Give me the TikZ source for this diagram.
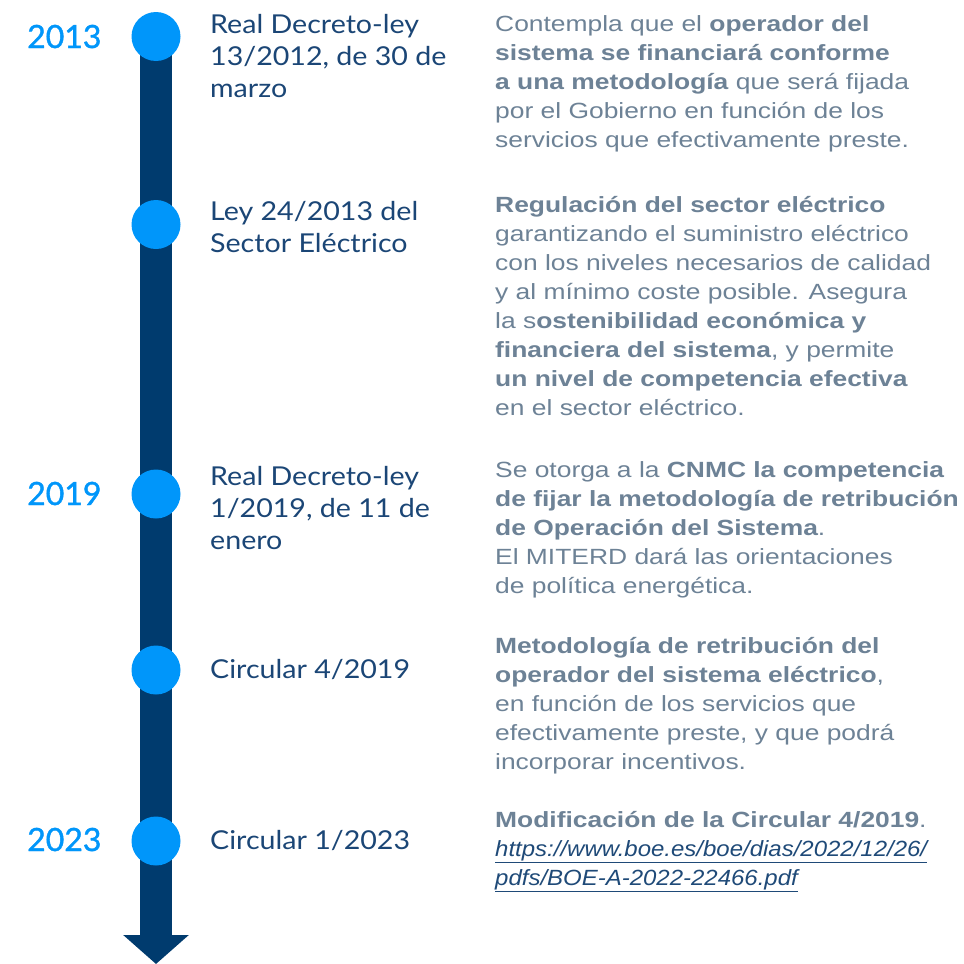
\documentclass[tikz,border=0pt]{standalone}
\usepackage{fontspec}
\setmainfont{Liberation Sans}[FakeStretch=1.2]
\newfontfamily\urlfont{Liberation Sans}[FakeStretch=1.09]
\newfontfamily\labfont{Lato}[FakeStretch=1.1]
\newfontfamily\yearfont{Lato}[FakeBold=1.2]
\usetikzlibrary{arrows.meta}
\definecolor{barblue}{HTML}{003B6E}
\definecolor{dotblue}{HTML}{0096FA}
\definecolor{labblue}{HTML}{1B4676}
\definecolor{txtgray}{HTML}{6D8296}
\definecolor{urlblue}{HTML}{1F4A78}
\newcommand{\lines}[1]{\begin{tabular}[t]{@{}l@{}}#1\end{tabular}}
\newcommand{\urltext}[1]{\textcolor{urlblue}{\urlfont\itshape\underline{#1}}}
\tikzset{
  bar/.style={draw=barblue, line width=32pt, -{Triangle[width=64pt,length=29pt]}},
  dot/.style={circle, fill=dotblue, minimum size=49pt, inner sep=0pt},
  year/.style={anchor=base west, inner sep=0pt, text=dotblue, font=\yearfont\fontsize{32}{32}\selectfont},
  lab/.style={anchor=base west, inner sep=0pt, text=labblue, font=\labfont\fontsize{26}{32}\selectfont},
  desc/.style={anchor=base west, inner sep=0pt, text=txtgray, font=\fontsize{22}{29}\selectfont},
}
\begin{document}
\begin{tikzpicture}[x=1pt, y=-1pt]
\useasboundingbox[fill=white] (0,0) rectangle (964,964);
\coordinate (top) at (156,40);
\coordinate (bottom) at (156,964);
\draw[bar] (top) -- (bottom);
\node[dot] (d1) at (156,36.5) {};
\node[dot] (d2) at (156,224.5) {};
\node[dot] (d3) at (156,494) {};
\node[dot] (d4) at (156,670) {};
\node[dot] (d5) at (156,841) {};
\node[year] (y1) at (27,48) {2013};
\node[year] (y2) at (27,505) {2019};
\node[year] (y3) at (27,851) {2023};
\node[lab] (l1) at (210,33) {\lines{Real Decreto-ley\\13/2012, de 30 de\\marzo}};
\node[lab] (l2) at (210,220) {\lines{Ley 24/2013 del\\Sector Eléctrico}};
\node[lab] (l3) at (210,485) {\lines{Real Decreto-ley\\1/2019, de 11 de\\enero}};
\node[lab] (l4) at (210,678) {Circular 4/2019};
\node[lab] (l5) at (210,849) {Circular 1/2023};
\node[desc] (t1) at (495,31) {\lines{Contempla que el \textbf{operador del}\\\textbf{sistema se financiará conforme}\\\textbf{a una metodología} que será fijada\\por el Gobierno en función de los\\servicios que efectivamente preste.}};
\node[desc] (t2) at (495,212) {\lines{\textbf{Regulación del sector eléctrico}\\garantizando el suministro eléctrico\\con los niveles necesarios de calidad\\y al mínimo coste posible. Asegura\\la s\textbf{ostenibilidad económica y}\\\textbf{financiera del sistema}, y permite\\\textbf{un nivel de competencia efectiva}\\en el sector eléctrico.}};
\node[desc] (t3) at (495,477) {\lines{Se otorga a la \textbf{CNMC la competencia}\\\textbf{de fijar la metodología de retribución}\\\textbf{de Operación del Sistema}.\\El MITERD dará las orientaciones\\de política energética.}};
\node[desc] (t4) at (495,653) {\lines{\textbf{Metodología de retribución del}\\\textbf{operador del sistema eléctrico},\\en función de los servicios que\\efectivamente preste, y que podrá\\incorporar incentivos.}};
\node[desc] (t5) at (495,827) {\lines{\textbf{Modificación de la Circular 4/2019}.\\\urltext{https://www.boe.es/boe/dias/2022/12/26/}\\\urltext{pdfs/BOE-A-2022-22466.pdf}}};
\end{tikzpicture}
\end{document}
